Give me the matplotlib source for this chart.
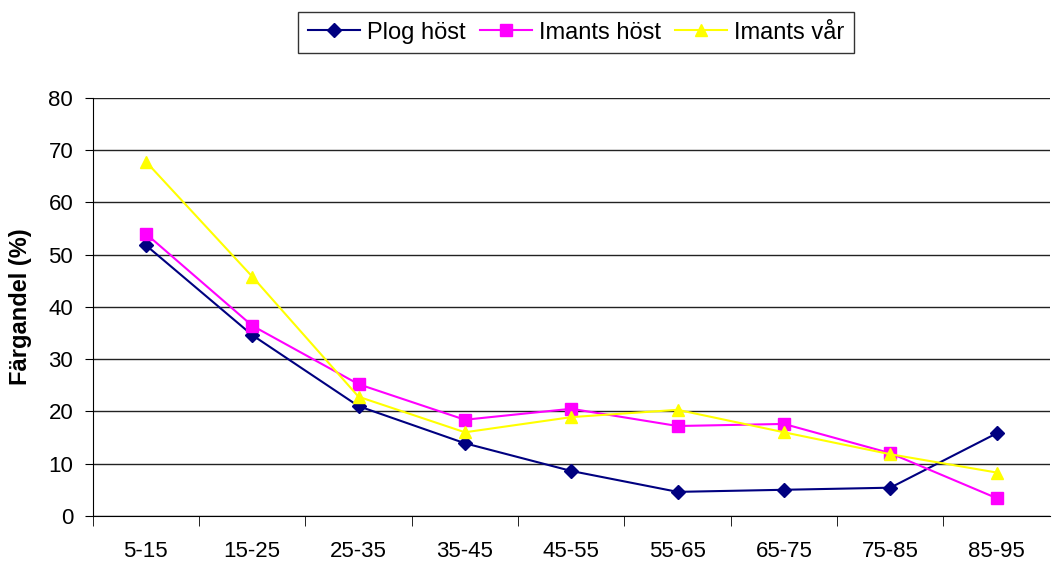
import matplotlib.pyplot as plt
import numpy as np

plt.rcParams['font.family'] = ['Liberation Sans', 'DejaVu Sans']

# djupintervall (cm)
kategorier = ["5-15", "15-25", "25-35", "35-45", "45-55", "55-65", "65-75", "75-85", "85-95"]

plog_host = [51.8, 34.6, 21.0, 13.9, 8.6, 4.6, 5.0, 5.4, 15.8]
imants_host = [54.0, 36.4, 25.2, 18.4, 20.5, 17.2, 17.6, 12.0, 3.4]
imants_var = [67.8, 45.8, 22.8, 16.0, 18.9, 20.3, 16.0, 11.8, 8.3]

fig = plt.figure(figsize=(10.53, 5.62), dpi=100)
ax = fig.add_axes([0.088, 0.082, 0.909, 0.744])

x = np.arange(len(kategorier))
ax.plot(x, plog_host, color="#000080", marker="D", markersize=7, lw=1.5, label="Plog höst")
ax.plot(x, imants_host, color="#FF00FF", marker="s", markersize=8, lw=1.5, label="Imants höst")
ax.plot(x, imants_var, color="#FFFF00", marker="^", markersize=9, lw=1.5, label="Imants vår")

ax.set_ylim(0, 80)
ax.set_yticks(range(0, 81, 10))
ax.set_xlim(-0.5, len(kategorier) - 0.5)
ax.set_xticks(x)
ax.set_xticklabels(kategorier)
ax.set_xticks(np.arange(-0.5, len(kategorier) - 0.5, 1), minor=True)
ax.tick_params(axis="x", which="major", length=0, pad=18, labelsize=16)
ax.tick_params(axis="x", which="minor", length=7, direction="out")
ax.tick_params(axis="y", length=6, pad=8, labelsize=16)

ax.grid(axis="y", color="#222222", lw=1)
ax.set_axisbelow(True)
for s in ["top", "right"]:
    ax.spines[s].set_visible(False)

ax.set_ylabel("Färgandel (%)", fontsize=17, fontweight="bold", labelpad=12)

leg = fig.legend(loc="center", bbox_to_anchor=(0.547, 0.942), ncol=3, fontsize=17,
                 frameon=True, fancybox=False, edgecolor="black", handlelength=2.2,
                 columnspacing=0.6, handletextpad=0.3, borderpad=0.4, borderaxespad=0)
leg.get_frame().set_linewidth(1)

fig.savefig("out.png", dpi=100)
